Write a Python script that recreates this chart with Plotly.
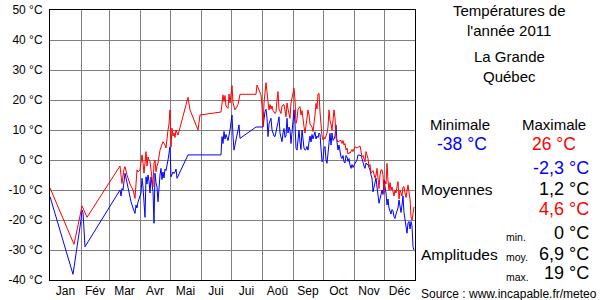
import plotly.graph_objects as go

# ---- data (day of year index 0 = 1 Jan) ----
max_days = [0, 24, 31, 32, 33, 35, 37,
            70, 72, 74, 75, 77, 80, 83, 85, 87, 88, 90, 91, 92, 93, 94, 95, 96, 97, 98, 99, 100,
            103, 104, 105, 106, 107, 108, 110, 111, 113, 115, 116, 118, 119, 120, 121, 122, 123,
            124, 125, 126, 128, 138, 140, 148, 150, 171, 173, 174, 175, 176, 178, 179, 180, 182,
            183, 185, 186, 188, 190, 206, 207, 209, 211, 212, 213, 214, 216, 218, 219, 220, 221,
            222, 223, 225, 226, 227, 228, 229, 231, 232, 234, 236, 237, 238, 240, 241, 242, 244,
            245, 246, 247, 248, 250, 251, 252, 253, 254, 255, 256, 257, 258, 259, 260, 262, 263,
            264, 265, 266, 267, 268, 269, 270, 271, 272, 273, 274, 275, 276, 277, 278, 279, 280,
            281, 282, 283, 284, 285, 286, 287, 288, 290, 291, 292, 293, 294, 295, 296, 297, 298,
            299, 300, 302, 303, 305, 307, 309, 310, 311, 312, 313, 315, 316, 318, 319, 320, 321,
            323, 325, 326, 327, 328, 329, 330, 331, 332, 333, 334, 335, 336, 337, 338, 339, 340,
            341, 342, 343, 344, 345, 346, 347, 348, 349, 350, 351, 352, 353, 354, 355, 356, 358,
            359, 360, 361, 362, 363, 364]
max_vals = [-9.3, -28.1, -17.0, -15.3, -16.0, -17.6, -19.1,
            -2.0, -7.8, -3.0, -2.2, -5.0, -8.0, -10.0, -12.8, -3.3, -4.0, -3.3, 0.0, 1.7, -1.0, -4.4, -1.0, 2.8, -2.0, 1.0, 0.0, -0.5,
            -8.9, -1.0, 0.0, -3.9, -2.0, -1.0, 3.3, 4.4, 6.1, 5.0, 4.0, 10.0, 12.0, 16.7, 4.4, 10.6, 8.0,
            9.0, 7.5, 10.0, 8.3, 20.9, 16.7, 10.0, 15.0, 16.0, 21.7, 19.5, 21.5, 18.0, 17.2, 22.0, 19.0, 24.8,
            19.0, 16.7, 17.5, 18.5, 21.9, 21.9, 25.0, 23.0, 21.7, 18.0, 11.1, 19.0, 25.8, 19.5, 16.7, 18.5, 17.0,
            18.0, 16.5, 15.5, 16.0, 20.0, 22.8, 17.0, 15.5, 18.0, 18.5, 14.4, 19.0, 17.0, 13.9, 19.0, 21.0, 23.9,
            20.0, 12.2, 13.5, 17.0, 17.8, 15.0, 16.5, 13.0, 11.1, 9.0, 11.0, 14.0, 16.7, 15.0, 12.0, 11.0, 9.5,
            12.0, 15.0, 18.9, 17.0, 22.0, 22.2, 16.0, 10.0, 8.0, 6.7, 7.5, 7.0, 8.0, 9.0, 11.0, 16.7, 13.0,
            12.0, 10.0, 15.0, 16.7, 14.0, 7.2, 6.5, 6.0, 6.5, 6.5, 5.5, 6.5, 5.0, 5.5, 3.3, 4.0, 2.0,
            2.5, 2.2, 3.5, 2.8, 4.4, 4.0, 4.4, 4.7, 3.0, 1.1, 1.5, -0.6, 2.8, 0.5, -2.2, -1.5, -4.4,
            -3.5, -6.0, -5.0, -2.8, -7.0, -9.5, -5.0, -3.3, -3.3, -5.0, -11.1, -7.0, -8.0, -1.1, -7.0, -10.0, -7.5,
            -10.0, -9.0, -11.0, -12.0, -10.0, -11.0, -9.0, -7.2, -13.0, -10.0, -11.0, -12.0, -9.0, -8.9, -11.0, -12.5, -8.3,
            -11.0, -13.0, -18.9, -20.0, -18.0, -15.6]

min_days = [0, 23, 31, 32, 33, 34, 35,
            70, 71, 72, 73, 75, 76, 77, 79, 81, 83, 85, 86, 87, 88, 90, 91, 92, 93, 95, 96, 97, 98, 99,
            100, 101, 102, 103, 104, 105, 106, 107, 108, 109, 110, 111, 112, 113, 114, 115, 116, 118,
            119, 120, 121, 122, 123, 124, 125, 126, 127, 138, 171, 172, 173, 174, 175, 176, 177, 178,
            180, 181, 182, 183, 184, 185, 186, 187, 188, 189, 190, 206, 213, 214, 215, 216, 217, 218,
            219, 220, 221, 222, 223, 224, 225, 226, 227, 228, 229, 230, 231, 232, 233, 234, 235, 236,
            237, 238, 239, 240, 241, 242, 243, 244, 245, 246, 247, 248, 249, 250, 251, 252, 253, 254,
            255, 256, 257, 258, 259, 260, 261, 262, 263, 264, 265, 266, 267, 268, 269, 270, 271, 272,
            273, 274, 275, 276, 277, 278, 279, 280, 281, 282, 283, 284, 285, 286, 287, 288, 289, 290,
            291, 292, 293, 294, 295, 296, 297, 298, 299, 300, 301, 302, 303, 305, 306, 307, 308, 310,
            311, 312, 313, 314, 315, 316, 317, 318, 319, 320, 321, 322, 323, 324, 325, 326, 327, 328,
            329, 330, 331, 332, 333, 334, 335, 336, 337, 338, 339, 340, 341, 342, 343, 344, 345, 346,
            347, 348, 349, 350, 351, 352, 353, 354, 355, 356, 357, 358, 359, 360, 361, 362, 363, 364]
min_vals = [-12.2, -38.1, -20.0, -16.7, -17.5, -22.0, -28.9,
            -10.0, -12.0, -9.5, -10.0, -4.4, -6.0, -8.0, -11.0, -13.9, -16.0, -17.8, -15.0, -16.0, -14.0, -12.2, -11.0, -6.1, -9.0, -19.1, -5.6, -8.0, -5.0, -7.0,
            -11.0, -5.6, -8.0, -10.5, -21.1, -4.4, -7.5, -9.0, -13.9, -8.0, -5.0, -2.8, -6.5, -4.0, -6.0, -3.0, -3.5, 0.0,
            3.3, 4.4, -5.6, -4.5, -4.0, -4.5, -4.0, -3.0, -6.1, 1.7, 1.7, 7.8, 5.5, 9.5, 7.0, 8.5, 7.0, 6.5,
            10.0, 12.0, 15.0, 8.0, 3.3, 5.0, 7.0, 9.0, 10.0, 11.7, 7.2, 11.0, 11.0, 14.0, 16.1, 16.9, 14.0, 7.8,
            12.0, 13.0, 13.9, 10.0, 8.5, 8.0, 7.8, 10.0, 11.0, 12.5, 14.4, 9.0, 7.0, 6.1, 9.0, 10.5, 7.5, 8.0,
            13.9, 9.0, 11.0, 10.0, 5.5, 10.0, 12.0, 16.7, 12.0, 3.9, 3.3, 8.0, 10.0, 6.0, 3.5, 10.0, 6.0, 4.0,
            3.3, 3.5, 4.5, 3.3, 6.0, 8.0, 6.0, 8.5, 7.0, 8.0, 9.4, 7.0, 8.0, 7.5, 9.0, 8.5, 5.0, -0.6,
            0.0, 4.0, 4.5, 0.0, -1.1, 2.0, 5.6, 8.9, 5.0, 9.0, 6.5, 7.0, 8.0, 11.7, 6.0, 3.3, 5.0, 2.0,
            1.0, 0.5, 1.5, -0.6, -1.0, 1.5, 1.0, -0.5, 0.5, -1.7, -2.8, -1.5, -2.5, -1.1, -0.5, 0.0, 1.7, 1.7,
            1.5, 0.5, -1.0, -2.0, -2.8, -1.0, -1.5, -1.5, -2.5, -3.3, -5.0, -6.0, -10.6, -9.0, -8.5, -6.0, -9.0, -11.0,
            -14.4, -13.0, -11.0, -10.0, -11.5, -6.7, -9.0, -11.0, -15.0, -13.0, -16.0, -17.0, -18.0, -16.5, -17.0, -18.9, -19.5, -18.0,
            -17.0, -16.0, -13.3, -16.0, -17.5, -15.0, -12.0, -17.5, -20.0, -22.0, -24.4, -21.0, -20.5, -23.0, -20.5, -22.0, -28.9, -30.0]

month_starts = [0, 31, 59, 90, 120, 151, 181, 212, 243, 273, 304, 334, 365]
month_labels = ["Jan", "Fév", "Mar", "Avr", "Mai", "Jui", "Jui", "Aoû", "Sep", "Oct", "Nov", "Déc"]
y_ticks = [-40, -30, -20, -10, 0, 10, 20, 30, 40, 50]
y_labels = [f"{v} °C" for v in y_ticks]

month_mids = [(month_starts[i] + month_starts[i + 1]) / 2 for i in range(12)]

FONT = "Liberation Sans, Arial, sans-serif"

fig = go.Figure()
fig.add_trace(go.Scatter(x=min_days, y=min_vals, mode="lines",
                         line=dict(color="#0000FF", width=1), hoverinfo="skip"))
fig.add_trace(go.Scatter(x=max_days, y=max_vals, mode="lines",
                         line=dict(color="#FF0000", width=1), hoverinfo="skip"))

fig.update_layout(
    width=600, height=300,
    margin=dict(l=50, r=185, t=10, b=20),
    paper_bgcolor="white", plot_bgcolor="white",
    showlegend=False,
    font=dict(family=FONT, color="black", size=12),
    xaxis=dict(range=[0, 365], tickvals=month_mids, ticktext=month_labels, ticks="",
               showgrid=False, zeroline=False, showline=True, linecolor="black",
               linewidth=1, mirror=True, tickfont=dict(size=12), automargin=False,
               minor=dict(tickvals=month_starts, showgrid=True, gridcolor="#808080",
                          gridwidth=1, ticks="")),
    yaxis=dict(range=[-40, 50], tickvals=y_ticks, ticktext=y_labels, ticks="",
               showgrid=True, gridcolor="#808080", gridwidth=1, zeroline=False,
               showline=True, linecolor="black", linewidth=1, mirror=True,
               tickfont=dict(size=12), ticklabelstandoff=4, automargin=False),
)

def txt(x, y, s, size=14, color="black", anchor="center"):
    fig.add_annotation(x=x, y=y, xref="paper", yref="paper", text=s, showarrow=False,
                       xanchor=anchor, yanchor="middle",
                       font=dict(family=FONT, size=size, color=color))

W, H = 365.0, 270.0
def px(xp):
    return (xp - 50) / W
def py(yp):
    return (280 - yp) / H

txt(px(509), py(10), "Températures de", 15)
txt(px(509), py(31), "l'année 2011", 15)
txt(px(509), py(57), "La Grande", 15)
txt(px(509), py(77), "Québec", 15)
txt(px(460), py(124), "Minimale", 15)
txt(px(554), py(124), "Maximale", 15)
txt(px(462), py(144), "-38 °C", 17.5, "#0000FF")
txt(px(554), py(144), "26 °C", 17.5, "#FF0000")
txt(px(591), py(168), "-2,3 °C", 18, "#0000FF", "right")
txt(px(419), py(189), "Moyennes", 15.5, "black", "left")
txt(px(591), py(189), "1,2 °C", 18, "black", "right")
txt(px(591), py(209), "4,6 °C", 18, "#FF0000", "right")
txt(px(504), py(237), "min.", 10.5, "black", "left")
txt(px(591), py(233), "0 °C", 18, "black", "right")
txt(px(419), py(254), "Amplitudes", 15.5, "black", "left")
txt(px(504), py(257), "moy.", 10.5, "black", "left")
txt(px(591), py(254), "6,9 °C", 18, "black", "right")
txt(px(504), py(277), "max.", 10.5, "black", "left")
txt(px(591), py(273), "19 °C", 18, "black", "right")
txt(px(419), py(294), "Source : www.incapable.fr/meteo", 12, "black", "left")

fig.write_html("out.html")
